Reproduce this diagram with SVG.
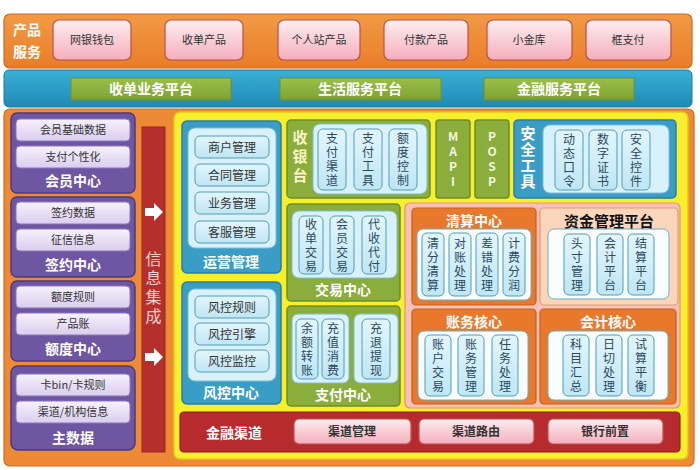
<svg xmlns="http://www.w3.org/2000/svg" width="700" height="470" viewBox="0 0 700 470">
<defs>
<linearGradient id="gPink" x1="0" y1="0" x2="0" y2="1"><stop offset="0" stop-color="#fdeef0"/><stop offset="1" stop-color="#f5aebb"/></linearGradient>
<linearGradient id="gOrange" x1="0" y1="0" x2="0" y2="1"><stop offset="0" stop-color="#f29a45"/><stop offset="1" stop-color="#e97d28"/></linearGradient>
<linearGradient id="gBlueBand" x1="0" y1="0" x2="0" y2="1"><stop offset="0" stop-color="#3bb0d6"/><stop offset="1" stop-color="#1d8ab6"/></linearGradient>
<linearGradient id="gGreen" x1="0" y1="0" x2="0" y2="1"><stop offset="0" stop-color="#9cbf4a"/><stop offset="1" stop-color="#7ea232"/></linearGradient>
<linearGradient id="gLav" x1="0" y1="0" x2="0" y2="1"><stop offset="0" stop-color="#f6f2fc"/><stop offset="1" stop-color="#d9cdee"/></linearGradient>
<linearGradient id="gCyan" x1="0" y1="0" x2="0" y2="1"><stop offset="0" stop-color="#e3f6fc"/><stop offset="1" stop-color="#bfe6f4"/></linearGradient>
</defs>
<style>
text{font-family:"Noto Sans CJK SC","Noto Sans",sans-serif;text-anchor:middle}
.pinkbox{fill:url(#gPink);stroke:#b8524f;stroke-width:1.2}
.plat{fill:url(#gGreen);stroke:#6f8f2a;stroke-width:1}
.purple{fill:#6e56a2;stroke:#4c3a80;stroke-width:1.5}
.lav{fill:url(#gLav);stroke:#8a78bb;stroke-width:1}
.blue{fill:#3a9dc6;stroke:#2a7ea6;stroke-width:1.5}
.green{fill:#8aad3c;stroke:#6d8d2a;stroke-width:1.5}
.light{fill:#d8f1fa;stroke:#7dbfd6;stroke-width:1}
.item{fill:url(#gCyan);stroke:#4f9db8;stroke-width:1}
.white{fill:#f8fcfd;stroke:#6aaec6;stroke-width:1}
.orng{fill:#e8782c;stroke:#c95f1a;stroke-width:1.2}
.t11{font-size:11px;fill:#333}
.t12{font-size:12px;fill:#333}
.vt{writing-mode:vertical-rl;text-orientation:upright}
.v{font-size:12px;fill:#2a4a60;letter-spacing:2px}
.lbl{font-size:14px;font-weight:bold;fill:#ffffff}
.plt{font-size:14px;font-weight:bold;fill:#ffffff}
</style>

<!-- product services -->
<g id="product-services">
<rect x="4" y="14" width="688" height="54" rx="6" fill="url(#gOrange)" stroke="#c96a1e" stroke-width="1.2"/>
<text x="27" y="35" class="lbl" font-size="15">产品</text>
<text x="27" y="57" class="lbl" font-size="15">服务</text>
</g>
<g id="p1"><rect x="53" y="20" width="78" height="40" rx="6" class="pinkbox"/><text x="92" y="44" class="t11">网银钱包</text></g>
<g id="p2"><rect x="165" y="20" width="78" height="40" rx="6" class="pinkbox"/><text x="204" y="44" class="t11">收单产品</text></g>
<g id="p3"><rect x="278" y="20" width="82" height="40" rx="6" class="pinkbox"/><text x="319" y="44" class="t11">个人站产品</text></g>
<g id="p4"><rect x="384" y="20" width="84" height="40" rx="6" class="pinkbox"/><text x="426" y="44" class="t11">付款产品</text></g>
<g id="p5"><rect x="487" y="20" width="85" height="40" rx="6" class="pinkbox"/><text x="529" y="44" class="t11">小金库</text></g>
<g id="p6"><rect x="586" y="20" width="85" height="40" rx="6" class="pinkbox"/><text x="628" y="44" class="t11">框支付</text></g>

<!-- platform band -->
<g id="platform-band"><rect x="4" y="70" width="688" height="37" rx="5" fill="url(#gBlueBand)" stroke="#1a7aa0" stroke-width="1"/></g>
<g id="pl1"><rect x="71" y="78" width="160" height="22" class="plat"/><text x="151" y="94" class="plt">收单业务平台</text></g>
<g id="pl2"><rect x="280" y="78" width="161" height="22" class="plat"/><text x="360" y="94" class="plt">生活服务平台</text></g>
<g id="pl3"><rect x="484" y="78" width="150" height="22" class="plat"/><text x="559" y="94" class="plt">金融服务平台</text></g>

<!-- main container -->
<g id="main"><rect x="4" y="109" width="690" height="357" rx="6" fill="#ee8a36" stroke="#d06a1e" stroke-width="1.2"/></g>

<!-- left data centers -->
<g id="member-center">
<rect x="11" y="113" width="124" height="80" rx="6" class="purple"/>
<rect x="16" y="119" width="114" height="22" rx="4" class="lav"/><text x="73" y="134" class="t11">会员基础数据</text>
<rect x="16" y="146" width="114" height="22" rx="4" class="lav"/><text x="73" y="161" class="t11">支付个性化</text>
<text x="73" y="186" class="lbl">会员中心</text>
</g>
<g id="sign-center">
<rect x="11" y="197" width="124" height="80" rx="6" class="purple"/>
<rect x="16" y="202" width="114" height="22" rx="4" class="lav"/><text x="73" y="217" class="t11">签约数据</text>
<rect x="16" y="229" width="114" height="22" rx="4" class="lav"/><text x="73" y="244" class="t11">征信信息</text>
<text x="73" y="270" class="lbl">签约中心</text>
</g>
<g id="quota-center">
<rect x="11" y="281" width="124" height="80" rx="6" class="purple"/>
<rect x="16" y="286" width="114" height="22" rx="4" class="lav"/><text x="73" y="301" class="t11">额度规则</text>
<rect x="16" y="313" width="114" height="22" rx="4" class="lav"/><text x="73" y="328" class="t11">产品账</text>
<text x="73" y="354" class="lbl">额度中心</text>
</g>
<g id="master-data">
<rect x="11" y="366" width="124" height="84" rx="7" class="purple"/>
<rect x="16" y="374" width="114" height="22" rx="4" class="lav"/><text x="73" y="389" class="t11">卡bin/卡规则</text>
<rect x="16" y="401" width="114" height="22" rx="4" class="lav"/><text x="73" y="416" class="t11">渠道/机构信息</text>
<text x="73" y="443" class="lbl">主数据</text>
</g>

<!-- info integration -->
<g id="info-integration">
<rect x="142" y="127" width="23" height="325" fill="#b5302c" stroke="#962420" stroke-width="1"/>
<text x="153.5" y="289" class="vt" font-size="16" fill="#f6d0cc" letter-spacing="3">信息集成</text>
<path d="M145 208 h9 v-5 l9 9 l-9 9 v-5 h-9 z" fill="#ffffff"/>
<path d="M145 353 h9 v-5 l9 9 l-9 9 v-5 h-9 z" fill="#ffffff"/>
</g>

<!-- yellow container -->
<g id="core"><rect x="174" y="112" width="514" height="347" rx="6" fill="#f8ef2c" stroke="#e3c81a" stroke-width="1.5"/></g>

<g id="ops-mgmt">
<rect x="182" y="121" width="99" height="152" rx="5" class="blue"/>
<rect x="188" y="128" width="88" height="120" rx="7" class="light"/>
<rect x="195" y="136" width="74" height="22" rx="5" class="item"/><text x="232" y="152" class="t12">商户管理</text>
<rect x="195" y="164" width="74" height="22" rx="5" class="item"/><text x="232" y="180" class="t12">合同管理</text>
<rect x="195" y="192" width="74" height="22" rx="5" class="item"/><text x="232" y="208" class="t12">业务管理</text>
<rect x="195" y="221" width="74" height="22" rx="5" class="item"/><text x="232" y="237" class="t12">客服管理</text>
<text x="231" y="267" class="lbl" font-size="15">运营管理</text>
</g>

<g id="risk-center">
<rect x="182" y="282" width="99" height="122" rx="5" class="blue"/>
<rect x="188" y="289" width="88" height="92" rx="7" class="light"/>
<rect x="195" y="296" width="74" height="22" rx="5" class="item"/><text x="232" y="312" class="t12">风控规则</text>
<rect x="195" y="323" width="74" height="22" rx="5" class="item"/><text x="232" y="339" class="t12">风控引擎</text>
<rect x="195" y="350" width="74" height="22" rx="5" class="item"/><text x="232" y="366" class="t12">风控监控</text>
<text x="231" y="398" class="lbl" font-size="15">风控中心</text>
</g>

<g id="cashier">
<rect x="287" y="120" width="143" height="78" rx="4" class="green"/>
<text x="300" y="158" class="vt" font-size="15" font-weight="bold" fill="#fbf6c8" letter-spacing="4">收银台</text>
<rect x="313" y="124" width="114" height="70" rx="7" class="light"/>
<rect x="318" y="129" width="28" height="61" rx="5" class="item"/><text x="332" y="160" class="vt v">支付渠道</text>
<rect x="354" y="129" width="28" height="61" rx="5" class="item"/><text x="368" y="160" class="vt v">支付工具</text>
<rect x="389" y="129" width="28" height="61" rx="5" class="item"/><text x="403" y="160" class="vt v">额度控制</text>
</g>

<g id="mapi">
<rect x="436" y="120" width="34" height="78" rx="3" class="green"/>
<text x="453" y="160" class="vt" font-size="12" font-weight="bold" fill="#f2f6e0" letter-spacing="3">MAPI</text>
</g>
<g id="posp">
<rect x="475" y="120" width="34" height="78" rx="3" class="green"/>
<text x="492" y="160" class="vt" font-size="12" font-weight="bold" fill="#f2f6e0" letter-spacing="3">POSP</text>
</g>

<g id="security-tools">
<rect x="514" y="120" width="162" height="78" rx="4" class="blue"/>
<text x="528" y="158" class="vt" font-size="15" font-weight="bold" fill="#ffffff" letter-spacing="1">安全工具</text>
<rect x="543" y="125" width="126" height="68" rx="7" class="light"/>
<rect x="555" y="130" width="28" height="60" rx="5" class="item"/><text x="569" y="161" class="vt v">动态口令</text>
<rect x="589" y="130" width="28" height="60" rx="5" class="item"/><text x="603" y="161" class="vt v">数字证书</text>
<rect x="622" y="130" width="28" height="60" rx="5" class="item"/><text x="636" y="161" class="vt v">安全控件</text>
</g>

<g id="trade-center">
<rect x="287" y="204" width="113" height="97" rx="4" class="green"/>
<rect x="292" y="211" width="105" height="67" rx="7" class="light"/>
<rect x="299" y="216" width="24" height="58" rx="5" class="item"/><text x="311" y="246" class="vt v">收单交易</text>
<rect x="330" y="216" width="24" height="58" rx="5" class="item"/><text x="342" y="246" class="vt v">会员交易</text>
<rect x="362" y="216" width="24" height="58" rx="5" class="item"/><text x="374" y="246" class="vt v">代收代付</text>
<text x="343" y="295" class="lbl" font-size="15">交易中心</text>
</g>

<g id="pay-center">
<rect x="287" y="306" width="113" height="100" rx="4" class="green"/>
<rect x="292" y="314" width="57" height="69" rx="6" class="light"/>
<rect x="296" y="319" width="22" height="60" rx="5" class="item"/><text x="307" y="350" class="vt v">余额转账</text>
<rect x="322" y="319" width="22" height="60" rx="5" class="item"/><text x="333" y="350" class="vt v">充值消费</text>
<rect x="354" y="314" width="44" height="69" rx="6" class="light"/>
<rect x="362" y="319" width="28" height="60" rx="5" class="item"/><text x="376" y="350" class="vt v">充退提现</text>
<text x="343" y="400" class="lbl" font-size="15">支付中心</text>
</g>

<g id="finance-core"><rect x="405" y="203" width="275" height="205" rx="5" fill="#f8c1b7" stroke="#e0937e" stroke-width="1.2"/></g>

<g id="clearing-center">
<rect x="412" y="208" width="124" height="97" rx="4" class="orng"/>
<text x="474" y="226" class="lbl">清算中心</text>
<rect x="417" y="229" width="114" height="71" rx="6" class="white"/>
<rect x="422" y="233" width="22" height="63" rx="5" class="item"/><text x="433" y="265.5" class="vt v">清分清算</text>
<rect x="449" y="233" width="22" height="63" rx="5" class="item"/><text x="460" y="265.5" class="vt v">对账处理</text>
<rect x="476" y="233" width="22" height="63" rx="5" class="item"/><text x="487" y="265.5" class="vt v">差错处理</text>
<rect x="503" y="233" width="22" height="63" rx="5" class="item"/><text x="514" y="265.5" class="vt v">计费分润</text>
</g>

<g id="fund-mgmt">
<rect x="540" y="208" width="138" height="97" rx="4" fill="#fcd6bb" stroke="#e29a76" stroke-width="1.2"/>
<text x="609" y="227" font-size="15" font-weight="bold" fill="#111">资金管理平台</text>
<rect x="548" y="229" width="121" height="70" rx="6" class="white"/>
<rect x="564" y="234" width="26" height="61" rx="5" class="item"/><text x="577" y="265.5" class="vt v">头寸管理</text>
<rect x="597" y="234" width="26" height="61" rx="5" class="item"/><text x="610" y="265.5" class="vt v">会计平台</text>
<rect x="628" y="234" width="26" height="61" rx="5" class="item"/><text x="641" y="265.5" class="vt v">结算平台</text>
</g>

<g id="accounting-core">
<rect x="412" y="309" width="124" height="95" rx="4" class="orng"/>
<text x="474" y="327" class="lbl">账务核心</text>
<rect x="418" y="331" width="110" height="69" rx="6" class="white"/>
<rect x="425" y="335" width="26" height="61" rx="5" class="item"/><text x="438" y="366.5" class="vt v">账户交易</text>
<rect x="458" y="335" width="26" height="61" rx="5" class="item"/><text x="471" y="366.5" class="vt v">账务管理</text>
<rect x="492" y="335" width="26" height="61" rx="5" class="item"/><text x="505" y="366.5" class="vt v">任务处理</text>
</g>

<g id="ledger-core">
<rect x="540" y="309" width="136" height="95" rx="4" class="orng"/>
<text x="608" y="327" class="lbl">会计核心</text>
<rect x="548" y="331" width="120" height="69" rx="6" class="white"/>
<rect x="563" y="335" width="26" height="61" rx="5" class="item"/><text x="576" y="366.5" class="vt v">科目汇总</text>
<rect x="596" y="335" width="26" height="61" rx="5" class="item"/><text x="609" y="366.5" class="vt v">日切处理</text>
<rect x="628" y="335" width="26" height="61" rx="5" class="item"/><text x="641" y="366.5" class="vt v">试算平衡</text>
</g>

<g id="finance-channel">
<rect x="180" y="412" width="500" height="40" rx="4" fill="#b72b2e" stroke="#8f1e20" stroke-width="1.2"/>
<text x="234" y="438" class="lbl" font-size="16">金融渠道</text>
<rect x="294" y="419" width="117" height="25" rx="5" class="pinkbox"/><text x="352" y="436" class="t12" font-weight="bold">渠道管理</text>
<rect x="419" y="419" width="115" height="25" rx="5" class="pinkbox"/><text x="476" y="436" class="t12" font-weight="bold">渠道路由</text>
<rect x="548" y="419" width="115" height="25" rx="5" class="pinkbox"/><text x="605" y="436" class="t12" font-weight="bold">银行前置</text>
</g>

<g id="connectors"></g>
</svg>
